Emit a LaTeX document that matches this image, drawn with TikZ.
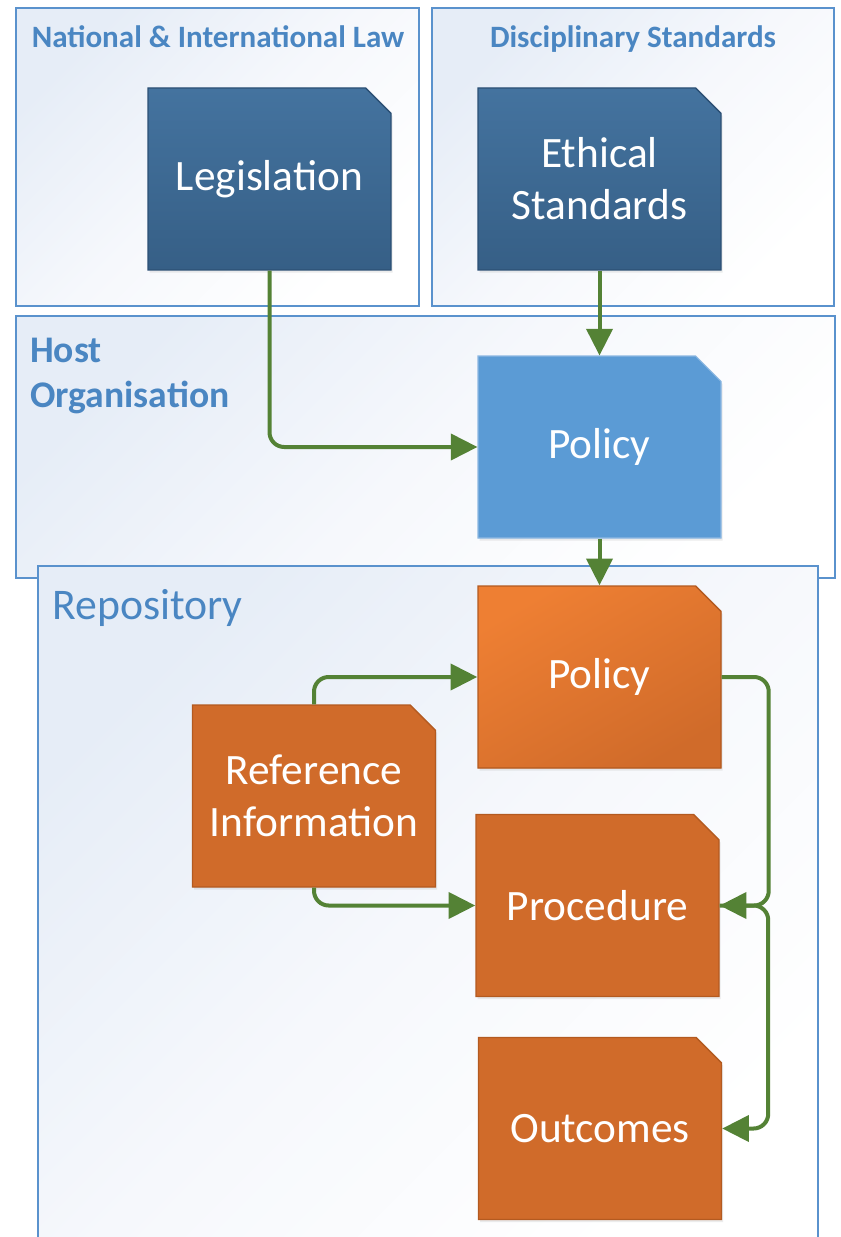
\documentclass[tikz,border=0pt]{standalone}
\usepackage{fontspec}
\setmainfont{Carlito}
\usetikzlibrary{shapes.misc,arrows.meta,shadows,calc}

\definecolor{cborder}{HTML}{5A92CD}
\definecolor{ctitle}{HTML}{4A86C2}
\definecolor{cfill}{HTML}{E6EDF7}
\definecolor{cfillmid}{HTML}{F6F8FC}
\definecolor{dbluetop}{HTML}{44739F}
\definecolor{dbluebot}{HTML}{365F86}
\definecolor{dblueline}{HTML}{2C5075}
\definecolor{lblue}{HTML}{5B9BD5}
\definecolor{lblueline}{HTML}{8DB8E2}
\definecolor{orangetop}{HTML}{EE7F33}
\definecolor{orange}{HTML}{D06B2A}
\definecolor{orangeline}{HTML}{B35A20}
\definecolor{cgreen}{HTML}{548235}

\tikzset{
  container/.style={draw=cborder, line width=1.5pt, top color=cfill, bottom color=white, middle color=cfillmid, shading angle=45},
  doc/.style={chamfered rectangle, chamfered rectangle corners=north east,
    chamfered rectangle xsep=9.5pt, chamfered rectangle ysep=9.5pt,
    minimum width=182.25pt, minimum height=136.5pt, inner sep=0pt,
    text=white, font=\fontsize{32.5}{39}\selectfont, align=center, line width=1.1pt,
    drop shadow={opacity=0.15, shadow xshift=1.2pt, shadow yshift=-2pt}},
  darkdoc/.style={doc, draw=dblueline, top color=dbluetop, bottom color=dbluebot},
  lightdoc/.style={doc, draw=lblueline, fill=lblue, line width=0.8pt},
  orangedoc/.style={doc, draw=orangeline, fill=orange},
  ttl/.style={text=ctitle, inner sep=0pt, font=\bfseries\fontsize{23.3}{28}\selectfont},
  conn/.style={draw=cgreen, line width=3pt, rounded corners=11pt,
    -{Triangle[length=20pt,width=19.5pt]}},
}

\begin{document}
\begin{tikzpicture}[x=0.75pt, y=-0.75pt]
\useasboundingbox (0,0) rectangle (840,1237);
\fill[white] (0,0) rectangle (840,1237);

% containers
\path[container] (16,8) rectangle (419,306);
\path[container] (432,8) rectangle (834,306);
\path[container] (16,316) rectangle (835,578);
\path[container] (38,566) rectangle (818,1250);

% container titles
\node[ttl, anchor=base] (tnat) at (218,48) {National \& International Law};
\node[ttl, anchor=base] (tdisc) at (633,48) {Disciplinary Standards};
\node[ttl, anchor=north west, align=left, font=\bfseries\fontsize{28.2}{33.75}\selectfont] (thost) at (30,338) {Host\\Organisation};
\node[text=ctitle, inner sep=0pt, anchor=base west, font=\fontsize{32.8}{39}\selectfont] (trepo) at (52,619) {Repository};

% documents
\node[darkdoc] (leg) at (269.5,179) {Legislation};
\node[darkdoc] (eth) at (599.5,179) {Ethical\\Standards};
\node[lightdoc] (pol1) at (599.5,447) {Policy};
\node[orangedoc, top color=orangetop, bottom color=orange, shading angle=30] (pol2) at (599.5,677) {Policy};
\node[orangedoc] (ref) at (314,796) {Reference\\Information};
\node[orangedoc] (proc) at (597.5,905.5) {Procedure};
\node[orangedoc] (out) at (600,1128.5) {Outcomes};

% connectors
\draw[conn] (leg.south) |- (pol1.west);
\draw[conn] (eth.south) -- (pol1.north);
\draw[conn] (pol1.south) -- (pol2.north);
\draw[conn] (ref.north) |- (pol2.west);
\draw[conn] (ref.south) |- (proc.west);
\draw[conn] (pol2.east) -- ++(47,0) |- (proc.east);
\draw[conn] (proc.east) -- ++(48.5,0) |- (out.east);
\end{tikzpicture}
\end{document}
